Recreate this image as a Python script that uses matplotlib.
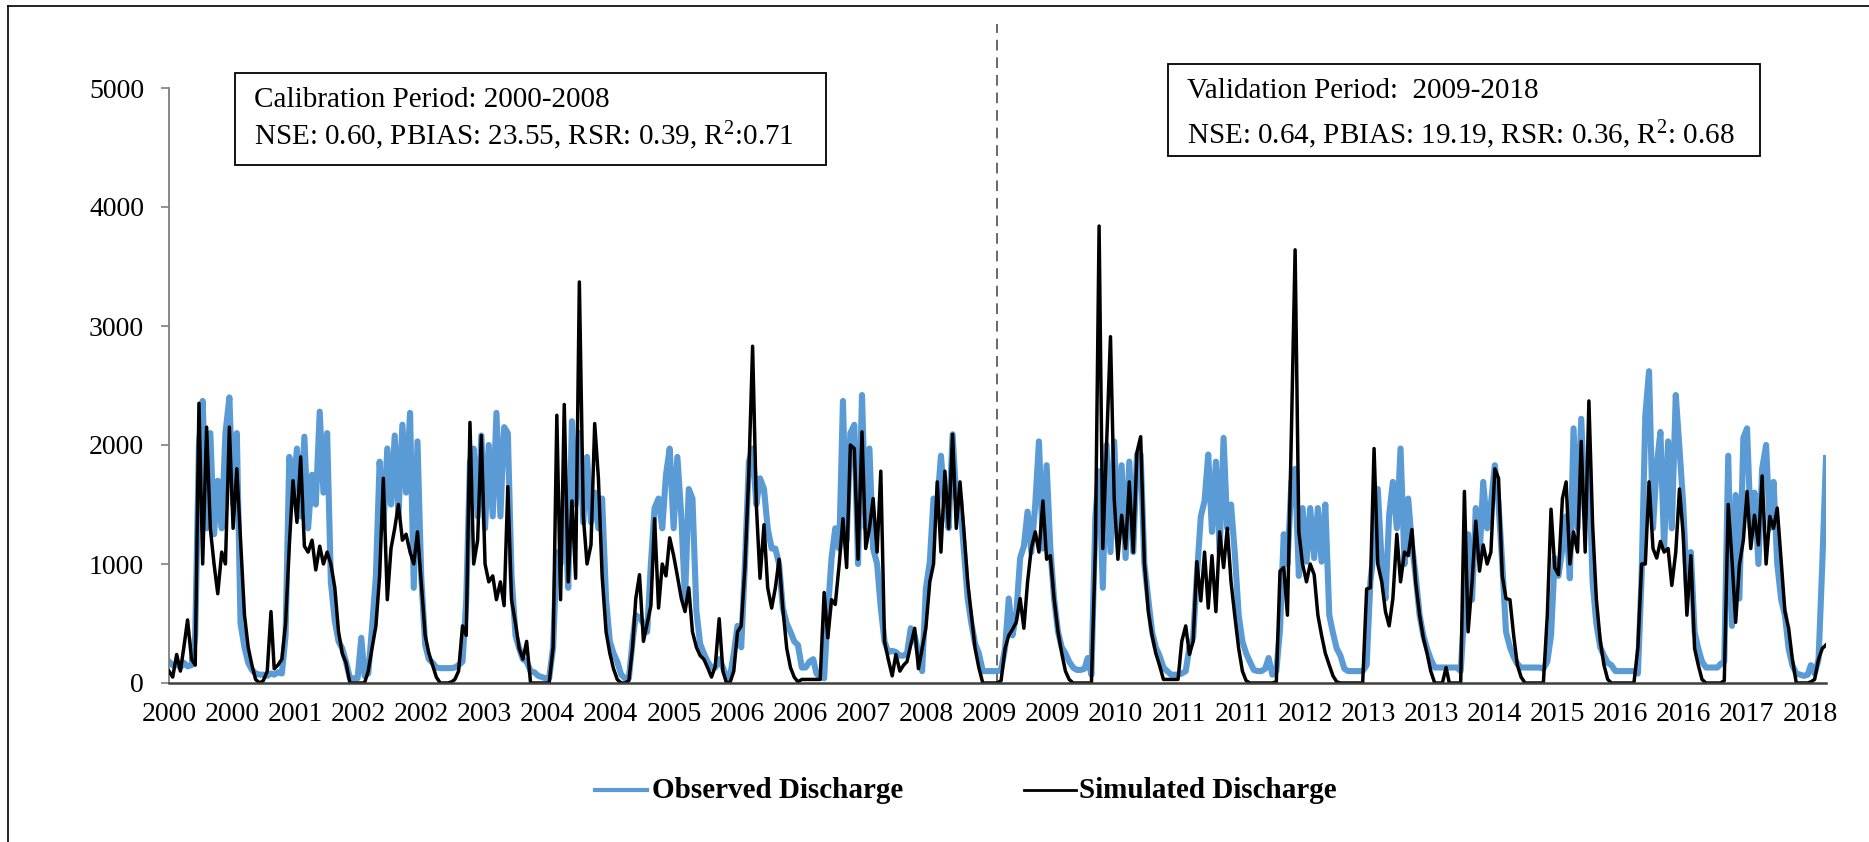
import numpy as np
import matplotlib
matplotlib.use("Agg")
import matplotlib.pyplot as plt
from matplotlib.lines import Line2D
from matplotlib.patches import Rectangle

# ---------------- data (semi-monthly readings: 1st and 16th of each month) ----------------
obs_2000 = [180,150,160,130,170,140,150,400,2000,2370,1300,2100,1250,1700,1300,2100,2400,1500,2100,500,300,170,110,80]
obs_2001 = [70,70,60,80,70,90,80,400,1900,1600,1970,1400,2070,1300,1750,1500,2280,1600,2100,850,520,350,290,180]
obs_2002 = [40,40,40,380,60,80,480,900,1860,1300,1970,1500,2080,1400,2170,1600,2270,800,2030,900,320,200,170,130]
obs_2003 = [125,125,125,125,130,150,180,700,1860,1970,1400,2080,1300,2000,1400,2270,1400,2150,2100,900,400,290,200,180]
obs_2004 = [100,90,60,50,40,40,300,1100,1000,1600,800,2200,1500,2100,1350,1900,1350,1600,1300,1550,700,350,250,180]
obs_2005 = [70,40,40,350,570,550,500,430,1000,1470,1550,1300,1750,1970,1300,1900,1400,700,1630,1550,600,330,250,180]
obs_2006 = [130,130,200,130,60,40,250,480,300,1000,1860,1970,1500,1720,1630,1300,1130,1130,1000,630,500,430,350,320]
obs_2007 = [130,130,180,200,80,50,40,600,1050,1300,1130,2370,1200,2100,2170,1000,2420,1300,1970,1130,1000,630,350,260]
obs_2008 = [270,260,230,230,250,460,400,250,100,790,1020,1550,1500,1910,1500,1300,2090,1550,1550,1130,710,500,330,250]
obs_2009 = [100,100,100,100,100,110,290,710,400,570,1050,1150,1440,1100,1500,2030,1130,1830,1130,710,430,300,250,180]
obs_2010 = [130,110,110,120,210,70,1400,1780,800,2000,1100,2030,1200,1830,1050,1860,1100,1920,1920,1000,700,430,300,230]
obs_2011 = [130,100,70,70,70,80,100,300,380,900,1400,1530,1920,1270,1860,1100,2060,1300,1500,1100,570,350,250,180]
obs_2012 = [110,100,100,120,210,70,100,450,1250,1000,1690,1800,900,1470,1020,1470,1050,1470,1020,1500,570,420,290,230]
obs_2013 = [120,100,100,100,100,100,150,850,1130,1630,1000,710,1410,1690,1300,1970,1000,1550,1160,900,570,400,290,200]
obs_2014 = [130,130,130,130,130,130,130,100,600,1250,700,1470,1050,1690,1300,1500,1830,1500,1000,430,300,220,160,130]
obs_2015 = [130,130,130,130,130,120,180,400,1050,900,1130,1400,880,2140,1300,2220,1400,1800,850,500,300,230,170,150]
obs_2016 = [100,100,100,100,100,100,80,900,2250,2620,1300,1830,2110,1130,2030,1300,2420,1970,1500,800,1100,430,290,180]
obs_2017 = [130,130,130,130,160,180,1910,480,1580,710,2060,2140,1300,1600,1000,1800,2000,1300,1690,1000,700,570,290,150]
obs_2018 = [80,70,60,70,150,80,200,1000,1890]

sim_2000 = [100,50,240,100,300,530,200,150,2350,1000,2150,1300,1000,750,1100,1000,2150,1300,1800,1200,570,300,150,30]
sim_2001 = [0,20,100,600,120,150,200,500,1150,1700,1350,1900,1150,1100,1200,950,1150,1000,1100,1000,800,430,250,170]
sim_2002 = [0,0,0,0,0,100,300,480,900,1720,700,1130,1300,1500,1200,1250,1100,1000,1270,850,400,250,150,50]
sim_2003 = [0,0,0,10,30,100,480,400,2190,1000,1200,2080,1000,850,900,700,850,650,1650,700,500,290,200,350]
sim_2004 = [0,0,0,0,0,0,300,2250,700,2340,850,1530,880,3370,1400,1000,1160,2180,1720,900,430,250,120,30]
sim_2005 = [0,0,20,300,710,910,350,500,650,1380,630,1000,900,1220,1070,900,710,600,800,430,300,230,200,130]
sim_2006 = [50,140,540,100,10,0,100,430,480,970,1780,2830,1500,880,1330,800,630,800,1040,630,290,130,50,10]
sim_2007 = [30,30,30,30,30,30,760,380,700,660,1000,1380,970,2000,1970,1040,2110,1130,1300,1550,1100,1780,350,200]
sim_2008 = [60,240,100,150,180,320,460,120,290,460,850,1000,1690,1100,1780,1300,2090,1300,1690,1300,850,570,290,130]
sim_2009 = [0,0,0,0,0,20,290,400,450,510,710,460,850,1130,1270,1100,1530,1040,1070,710,430,250,100,30]
sim_2010 = [0,0,0,0,0,0,1130,3840,1130,2000,2910,1550,1040,1410,1130,1690,1100,1940,2070,1010,600,400,250,150]
sim_2011 = [30,30,30,30,30,350,480,240,350,1020,690,1100,630,1070,600,1270,970,1300,850,570,290,100,20,0]
sim_2012 = [0,0,0,0,0,0,10,940,970,570,2110,3640,1270,1000,850,1000,910,570,400,250,150,60,10,0]
sim_2013 = [0,0,0,0,0,0,790,800,1970,1000,850,600,480,710,1250,850,1100,1070,1290,850,570,380,250,100]
sim_2014 = [0,0,0,130,0,0,0,0,1610,430,850,1360,940,1160,1000,1100,1800,1720,900,710,700,400,150,50]
sim_2015 = [0,0,0,0,0,0,570,1460,970,910,1550,1690,1000,1270,1100,2030,1100,2370,1330,710,350,150,30,0]
sim_2016 = [0,0,0,0,0,0,300,1000,1000,1690,1130,1050,1190,1100,1130,820,1100,1630,1250,570,1070,290,150,30]
sim_2017 = [0,0,0,0,0,20,1500,1040,510,990,1200,1610,1130,1410,1160,1740,1000,1400,1300,1470,1020,600,460,200]
sim_2018 = [0,0,0,0,10,30,200,290,320]

years = list(range(2000, 2019))
tick_labels = ["2000", "2000", "2001", "2002", "2002", "2003", "2004", "2004", "2005",
               "2006", "2006", "2007", "2008", "2009", "2009", "2010", "2011", "2011",
               "2012", "2013", "2013", "2014", "2015", "2016", "2016", "2017", "2018"]
series_names = ["Observed Discharge", "Simulated Discharge"]
box_cal = ["Calibration Period: 2000-2008", "NSE: 0.60, PBIAS: 23.55, RSR: 0.39, $\\mathrm{R}^{2}$:0.71"]
box_val = ["Validation Period:  2009-2018", "NSE: 0.64, PBIAS: 19.19, RSR: 0.36, $\\mathrm{R}^{2}$: 0.68"]

obs_by_year = [obs_2000, obs_2001, obs_2002, obs_2003, obs_2004, obs_2005, obs_2006, obs_2007,
               obs_2008, obs_2009, obs_2010, obs_2011, obs_2012, obs_2013, obs_2014, obs_2015,
               obs_2016, obs_2017, obs_2018]
sim_by_year = [sim_2000, sim_2001, sim_2002, sim_2003, sim_2004, sim_2005, sim_2006, sim_2007,
               sim_2008, sim_2009, sim_2010, sim_2011, sim_2012, sim_2013, sim_2014, sim_2015,
               sim_2016, sim_2017, sim_2018]

# ---------------- build x (days since 2000-01-01) ----------------
start = np.datetime64("2000-01-01")
dates = []
for y, vals in zip(years, obs_by_year):
    for i in range(len(vals)):
        m = i // 2 + 1
        d = 1 if i % 2 == 0 else 16
        dates.append(np.datetime64(f"{y}-{m:02d}-{d:02d}"))
day = (np.array(dates) - start).astype(int)
obs = np.concatenate([np.array(v, float) for v in obs_by_year])
sim = np.concatenate([np.array(v, float) for v in sim_by_year])

# ---------------- style ----------------
plt.rcParams["font.family"] = ["Liberation Serif", "DejaVu Serif"]
plt.rcParams["mathtext.fontset"] = "custom"
plt.rcParams["mathtext.rm"] = "Liberation Serif"
plt.rcParams["mathtext.it"] = "Liberation Serif:italic"

W, H = 1869, 842
fig = plt.figure(figsize=(W / 100, H / 100), dpi=100)
fig.patch.set_facecolor("white")

def fx(x):
    return x / W

def fy(y):
    return 1 - y / H

ax_l, ax_r, ax_t, ax_b = 169, 1826, 88, 683
ax = fig.add_axes([fx(ax_l), fy(ax_b), (ax_r - ax_l) / W, (ax_b - ax_t) / H])

blue = "#5B9BD5"
ax.plot(day, obs, color=blue, lw=4.4, solid_joinstyle="round", zorder=2)
ax.plot(day, sim, color="black", lw=2.5, solid_joinstyle="round", zorder=3)

ax.set_xlim(0, day[-1])
ax.set_ylim(0, 5000)
ax.set_yticks(np.arange(0, 5001, 1000))
ax.set_yticklabels([str(v) for v in range(0, 5001, 1000)], fontsize=20)
tick_step = 255
ax.set_xticks([k * tick_step for k in range(len(tick_labels))])
ax.set_xticklabels(tick_labels, fontsize=20)

for s in ["top", "right"]:
    ax.spines[s].set_visible(False)
ax.spines["left"].set_color("#7f7f7f")
ax.spines["left"].set_linewidth(1.3)
ax.spines["bottom"].set_color("#404040")
ax.spines["bottom"].set_linewidth(1.8)
ax.spines["bottom"].set_zorder(4)
ax.tick_params(axis="y", direction="out", length=6, width=1.2, color="#7f7f7f", pad=12)
ax.tick_params(axis="x", length=0, pad=14)

# separator (start of validation period)
split_day = int((np.datetime64("2009-02-26") - start).astype(int))
ax.plot([split_day, split_day], [0, 1.107], color="#404040", lw=1.1,
        dashes=(7, 4.5), transform=ax.get_xaxis_transform(), clip_on=False, zorder=1)

# ---------------- annotation boxes ----------------
def box(x0, y0, x1, y1, lines, tx, ty):
    fig.add_artist(Rectangle((fx(x0), fy(y1)), (x1 - x0) / W, (y1 - y0) / H,
                             transform=fig.transFigure, fill=True, facecolor="white",
                             edgecolor="black", lw=1.3, zorder=5))
    for t, yy in zip(lines, ty):
        fig.text(fx(tx), fy(yy), t, fontsize=21, ha="left", va="center", zorder=6)

box(235, 73, 826, 165, box_cal, 254, [100, 136])
box(1168, 64, 1760, 156, box_val, 1187, [91, 135])

# ---------------- legend ----------------
fig.add_artist(Line2D([fx(595), fx(647)], [fy(790), fy(790)], color=blue, lw=3.0,
                      transform=fig.transFigure))
fig.text(fx(652), fy(790), series_names[0], fontsize=21, fontweight="bold",
         ha="left", va="center")
fig.add_artist(Line2D([fx(1024), fx(1076)], [fy(790), fy(790)], color="black", lw=2.0,
                      transform=fig.transFigure))
fig.text(fx(1079), fy(790), series_names[1], fontsize=21, fontweight="bold",
         ha="left", va="center")

# ---------------- outer frame (partially visible) ----------------
fig.add_artist(Line2D([fx(8), fx(8)], [fy(6), 0], color="black", lw=1.2,
                      transform=fig.transFigure))
fig.add_artist(Line2D([fx(8), 1], [fy(6), fy(6)], color="black", lw=1.2,
                      transform=fig.transFigure))

fig.savefig("out.png", dpi=100)
